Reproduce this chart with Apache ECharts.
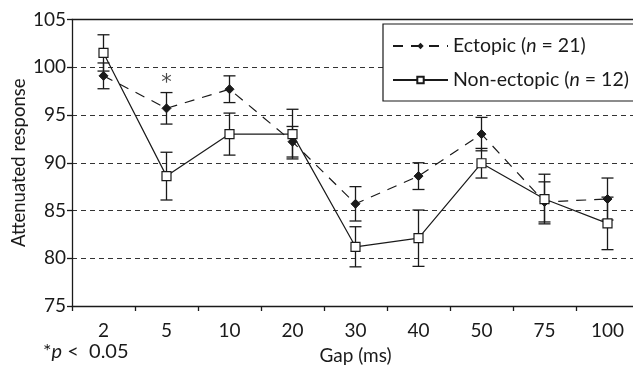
<!DOCTYPE html>
<html><head><meta charset="utf-8">
<script src="https://cdn.jsdelivr.net/npm/echarts@6/dist/echarts.min.js"></script>
<style>html,body{margin:0;padding:0;background:#fff}#c{width:633px;height:366px}</style>
</head><body><div id="c"></div>
<script>
var categories = ['2','5','10','20','30','40','50','75','100'];
var ectopicMean = [99.1, 95.7, 97.7, 92.2, 85.7, 88.6, 93.0, 85.9, 86.2];
var ectopicSE   = [1.35, 1.65, 1.4, 1.6, 1.8, 1.4, 1.75, 2.1, 2.2];
var nonMean = [101.5, 88.6, 93.0, 93.0, 81.2, 82.1, 89.95, 86.2, 83.65];
var nonSE   = [1.9, 2.5, 2.2, 2.6, 2.1, 2.95, 1.55, 2.6, 2.75];
var yTicks = {min: 75, max: 105, interval: 5};
var sigMarks = [['5', 98.8]];

var FONT = 'Lato';
var INK = '#1a1a1a';

function errData(mean, se){
  return mean.map(function(m,i){ return [i, m - se[i], m + se[i]]; });
}
function errRender(params, api){
  var x = api.value(0);
  var lo = api.coord([x, api.value(1)]);
  var hi = api.coord([x, api.value(2)]);
  var w = 6;
  var st = {stroke: INK, lineWidth: 1.3};
  return {type:'group', children:[
    {type:'line', shape:{x1:lo[0],y1:lo[1],x2:hi[0],y2:hi[1]}, style:st},
    {type:'line', shape:{x1:lo[0]-w,y1:lo[1],x2:lo[0]+w,y2:lo[1]}, style:st},
    {type:'line', shape:{x1:hi[0]-w,y1:hi[1],x2:hi[0]+w,y2:hi[1]}, style:st}
  ]};
}

var chart = echarts.init(document.getElementById('c'));
chart.setOption({
  animation: false,
  textStyle: {fontFamily: FONT},
  grid: {left: 72, top: 19.5, width: 567, height: 286.5, outerBoundsMode: 'none', containLabel: false},
  legend: {
    left: 383, top: 24, orient: 'vertical',
    padding: [12, 60, 11, 9], itemGap: 14,
    itemWidth: 55, itemHeight: 8,
    borderColor: INK, borderWidth: 1.2, backgroundColor: '#fff',
    textStyle: {fontSize: 19.5, color: INK, fontFamily: FONT,
      rich: {i: {fontStyle: 'italic', fontSize: 19.5, fontFamily: FONT, color: INK}}},
    formatter: function(name){
      return name === 'Ectopic' ? 'Ectopic ({i|n} = 21)' : 'Non-ectopic ({i|n} = 12)';
    },
    data: ['Ectopic', 'Non-ectopic']
  },
  xAxis: [{
    type: 'category', data: categories, boundaryGap: true,
    name: 'Gap (ms)', nameLocation: 'middle', nameGap: 40,
    nameTextStyle: {fontSize: 19, color: INK, fontFamily: FONT},
    axisLine: {lineStyle: {color: INK, width: 1.3}},
    axisTick: {show: true, inside: false, length: 5, lineStyle: {color: INK, width: 1.3}},
    axisLabel: {fontSize: 19, color: INK, margin: 15, fontFamily: FONT},
    splitLine: {show: false}
  }, {
    type: 'category', data: categories, position: 'top',
    axisLine: {show: true, lineStyle: {color: INK, width: 1.3}},
    axisTick: {show: false}, axisLabel: {show: false}, splitLine: {show: false}
  }],
  yAxis: {
    type: 'value', min: yTicks.min, max: yTicks.max, interval: yTicks.interval,
    name: 'Attenuated response', nameLocation: 'middle', nameGap: 43, nameMoveOverlap: false,
    nameTextStyle: {fontSize: 18.5, color: INK, fontFamily: FONT},
    axisLine: {show: true, lineStyle: {color: INK, width: 1.3}},
    axisTick: {show: true, length: 5, lineStyle: {color: INK, width: 1.3}},
    axisLabel: {fontSize: 19, color: INK, margin: 6, fontFamily: FONT},
    splitLine: {show: true, lineStyle: {color: '#333', type: [5, 4], width: 1.2}}
  },
  series: [
    {type: 'custom', name: 'errE', data: errData(ectopicMean, ectopicSE), renderItem: errRender, z: 1, silent: true},
    {type: 'custom', name: 'errN', data: errData(nonMean, nonSE), renderItem: errRender, z: 1, silent: true},
    {
      type: 'line', name: 'Ectopic', data: ectopicMean, z: 3,
      symbol: 'diamond', symbolSize: 9,
      lineStyle: {color: INK, width: 1.2, type: [10, 8]},
      itemStyle: {color: INK, borderColor: INK}
    },
    {
      type: 'line', name: 'Non-ectopic', data: nonMean, z: 4,
      symbol: 'rect', symbolSize: 9,
      lineStyle: {color: INK, width: 1.2, type: 'solid'},
      itemStyle: {color: '#fff', borderColor: INK, borderWidth: 1.2}
    },
    {
      type: 'scatter', name: 'sig', data: sigMarks, symbolSize: 0, z: 5, silent: true,
      label: {show: true, position: 'inside', offset: [0, 5], formatter: '*', fontSize: 21, color: INK, fontFamily: 'DejaVu Sans'}
    }
  ],
  graphic: [{
    type: 'text', left: 43, top: 342,
    style: {
      text: '*{i|p} <  0.05', fill: INK, font: '20px ' + FONT,
      rich: {i: {fontStyle: 'italic', fontSize: 20, fontFamily: FONT, fill: INK}}
    }
  }]
});
</script></body></html>
